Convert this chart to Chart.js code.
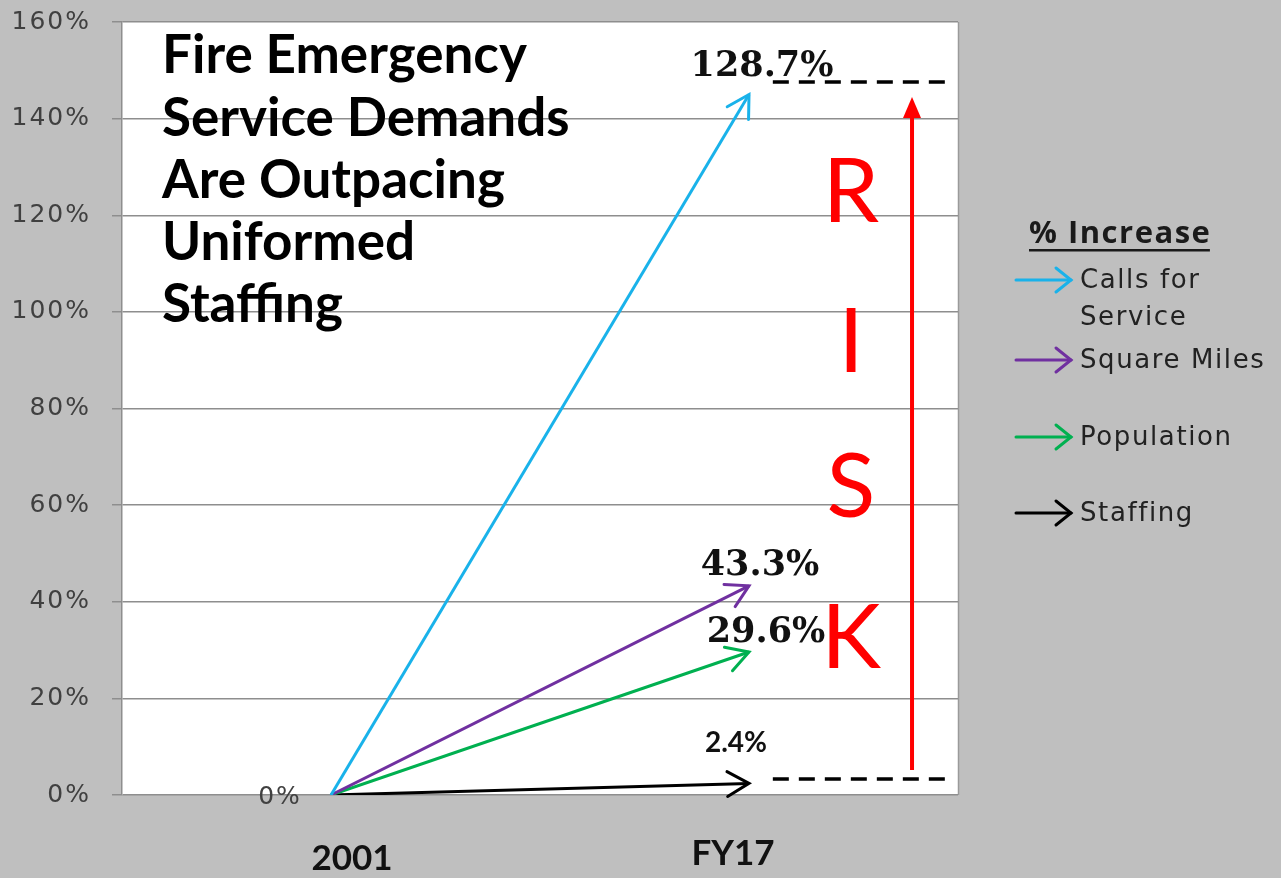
<!DOCTYPE html>
<html><head><meta charset="utf-8">
<script src="https://cdn.jsdelivr.net/npm/chart.js@4.4.1/dist/chart.umd.min.js"></script>
<style>html,body{margin:0;padding:0;background:#bfbfbf;} #wrap{width:1281px;height:878px;position:relative;}</style>
</head><body><div id="wrap"><canvas id="c"></canvas></div>
<script>
// ---- data ----
const categories = ['2001', 'FY17'];
const seriesNames = ['Calls for Service', 'Square Miles', 'Population', 'Staffing'];
const startValues = [0, 0, 0, 0];
const endValues = [145, 43.3, 29.6, 2.4];          // arrow tips as drawn
const endLabels = ['128.7%', '43.3%', '29.6%', '2.4%'];
const startLabel = '0%';
const yTickValues = [0, 20, 40, 60, 80, 100, 120, 140, 160];
const riskLetters = ['R', 'I', 'S', 'K'];
const riskLow = 3.3;
const riskHigh = 147.6;
const riskArrowFrom = 5.2;
const riskArrowTo = 144.5;
const titleLines = ['Fire Emergency', 'Service Demands', 'Are Outpacing', 'Uniformed', 'Staffing'];
const legendTitle = '% Increase';

// ---- styles ----
const seriesColors = ['#19b2ea', '#7030a0', '#00b050', '#000000'];

const datasets = seriesNames.map((name, i) => ({
  label: name,
  data: [{x: 0, y: startValues[i]}, {x: 1, y: endValues[i]}],
  borderColor: seriesColors[i], borderWidth: 3, pointRadius: 0, tension: 0, fill: false,
  arrow: 'open'
}));
datasets.push({label: 'riskTop', data: [{x: 1.057, y: riskHigh}, {x: 1.469, y: riskHigh}],
  borderColor: '#000', borderWidth: 3.5, borderDash: [16, 10], pointRadius: 0});
datasets.push({label: 'riskBottom', data: [{x: 1.057, y: riskLow}, {x: 1.469, y: riskLow}],
  borderColor: '#000', borderWidth: 3.5, borderDash: [16, 10], pointRadius: 0});
datasets.push({label: 'riskArrow', data: [{x: 1.39, y: riskArrowFrom}, {x: 1.39, y: riskArrowTo - 3}],
  borderColor: '#ff0000', borderWidth: 4, pointRadius: 0, arrow: 'filled'});

const labelOffsets = [[13, -18], [11, -11], [17, -10], [-13, -31]];
const labelFonts = ['bold 35px "DejaVu Serif"', 'bold 35px "DejaVu Serif"', 'bold 35px "DejaVu Serif"', 'bold 28px Lato'];

const decor = {
  id: 'decor',
  beforeDraw(chart) {
    const {ctx, chartArea: a} = chart;
    ctx.save();
    ctx.fillStyle = '#bfbfbf';
    ctx.fillRect(0, 0, chart.width, chart.height);
    ctx.fillStyle = '#ffffff';
    ctx.fillRect(a.left, a.top, a.right - a.left, a.bottom - a.top);
    ctx.strokeStyle = '#9a9a9a'; ctx.lineWidth = 1.5;
    ctx.beginPath(); ctx.moveTo(a.right + 0.5, a.top); ctx.lineTo(a.right + 0.5, a.bottom); ctx.stroke();
    ctx.restore();
    try { ctx.letterSpacing = '2px'; } catch (e) {}
  },
  beforeDatasetsDraw(chart) {
    try { chart.ctx.letterSpacing = '0px'; } catch (e) {}
  },
  afterDatasetsDraw(chart) {
    const ctx = chart.ctx;
    const xs = chart.scales.x, ys = chart.scales.y;
    ctx.save();
    try { ctx.letterSpacing = '0px'; } catch (e) {}
    // arrowheads
    chart.data.datasets.forEach((ds, i) => {
      const meta = chart.getDatasetMeta(i);
      const p0 = meta.data[0], p1 = meta.data[1];
      if (ds.arrow === 'open') {
        const ang = Math.atan2(p1.y - p0.y, p1.x - p0.x);
        const len = 25, s = 0.52;
        ctx.strokeStyle = ds.borderColor; ctx.lineWidth = 3; ctx.lineCap = 'round'; ctx.lineJoin = 'miter';
        ctx.beginPath();
        ctx.moveTo(p1.x - len * Math.cos(ang - s), p1.y - len * Math.sin(ang - s));
        ctx.lineTo(p1.x, p1.y);
        ctx.lineTo(p1.x - len * Math.cos(ang + s), p1.y - len * Math.sin(ang + s));
        ctx.stroke();
      } else if (ds.arrow === 'filled') {
        const tx = p1.x, ty = ys.getPixelForValue(riskArrowTo);
        ctx.fillStyle = ds.borderColor;
        ctx.beginPath();
        ctx.moveTo(tx, ty); ctx.lineTo(tx - 9, ty + 21); ctx.lineTo(tx + 9, ty + 21); ctx.closePath();
        ctx.fill();
      }
    });
    // end value labels
    ctx.textAlign = 'center'; ctx.textBaseline = 'alphabetic'; ctx.fillStyle = '#111';
    endLabels.forEach((t, i) => {
      const px = xs.getPixelForValue(1), py = ys.getPixelForValue(endValues[i]);
      ctx.font = labelFonts[i];
      ctx.fillText(t, px + labelOffsets[i][0], py + labelOffsets[i][1]);
    });
    // start label
    ctx.font = '25px "DejaVu Sans"'; ctx.fillStyle = '#404040'; ctx.textBaseline = 'middle';
    try { ctx.letterSpacing = '2px'; } catch (e) {}
    ctx.fillText(startLabel, xs.getPixelForValue(0) - 51, ys.getPixelForValue(0) + 2);
    try { ctx.letterSpacing = '0px'; } catch (e) {}
    // category labels
    ctx.font = 'bold 35px Lato'; ctx.fillStyle = '#111'; ctx.textBaseline = 'alphabetic';
    ctx.fillText(categories[0], xs.getPixelForValue(0) + 21, 870);
    ctx.fillText(categories[1], xs.getPixelForValue(1) - 16, 865);
    // RISK
    ctx.font = '90px Lato'; ctx.fillStyle = '#ff0000';
    const riskBase = [222, 372, 517, 668];
    riskLetters.forEach((l, i) => ctx.fillText(l, 851, riskBase[i]));
    // title
    ctx.font = 'bold 53px Lato'; ctx.fillStyle = '#000'; ctx.textAlign = 'left';
    const tb = [73, 136, 198, 260, 322];
    titleLines.forEach((l, i) => ctx.fillText(l, 162, tb[i]));
    // legend
    ctx.font = 'bold 31px "Open Sans"'; ctx.fillStyle = '#1a1a1a';
    try { ctx.letterSpacing = '1.5px'; } catch (e) {}
    ctx.fillText(legendTitle, 1029, 243);
    const w = ctx.measureText(legendTitle).width;
    ctx.fillRect(1029, 249, w - 1.5, 2.5);
    const arrowY = [280, 360, 437, 513];
    ctx.font = '26px "DejaVu Sans"';
    try { ctx.letterSpacing = '1.6px'; } catch (e) {}
    seriesNames.forEach((name, i) => {
      const y = arrowY[i];
      ctx.strokeStyle = seriesColors[i]; ctx.lineWidth = 3; ctx.lineCap = 'round';
      ctx.beginPath(); ctx.moveTo(1016, y); ctx.lineTo(1071, y); ctx.stroke();
      ctx.beginPath(); ctx.moveTo(1056, y - 12); ctx.lineTo(1071, y); ctx.lineTo(1056, y + 12); ctx.stroke();
      ctx.fillStyle = '#222';
      const words = name.split(' ');
      const lines = []; let cur = '';
      words.forEach(wd => {
        const t = cur ? cur + ' ' + wd : wd;
        if (ctx.measureText(t).width > 195 && cur) { lines.push(cur); cur = wd; } else cur = t;
      });
      lines.push(cur);
      lines.forEach((ln, k) => ctx.fillText(ln, 1080, y + 8 + k * 37));
    });
    ctx.restore();
  }
};

new Chart(document.getElementById('c'), {
  type: 'line',
  data: {datasets},
  options: {
    responsive: true, maintainAspectRatio: false, animation: false,
    layout: {padding: {left: 0, top: 22, right: 323, bottom: 83}},
    plugins: {legend: {display: false}, tooltip: {enabled: false}},
    scales: {
      x: {type: 'linear', min: -0.5, max: 1.5, display: false},
      y: {
        min: 0, max: 160,
        afterFit(s) { s.width = 122; s.paddingTop = 0; s.paddingBottom = 0; },
        afterBuildTicks(s) { s.ticks = yTickValues.map(v => ({value: v})); },
        ticks: {callback: v => v + '%', font: {family: 'DejaVu Sans', size: 25}, color: '#404040', padding: 21},
        grid: {color: '#8e8e8e', lineWidth: 1.5, tickLength: 10, drawTicks: true},
        border: {display: true, color: '#8e8e8e', width: 1.5}
      }
    }
  },
  plugins: [decor]
});
</script></body></html>
